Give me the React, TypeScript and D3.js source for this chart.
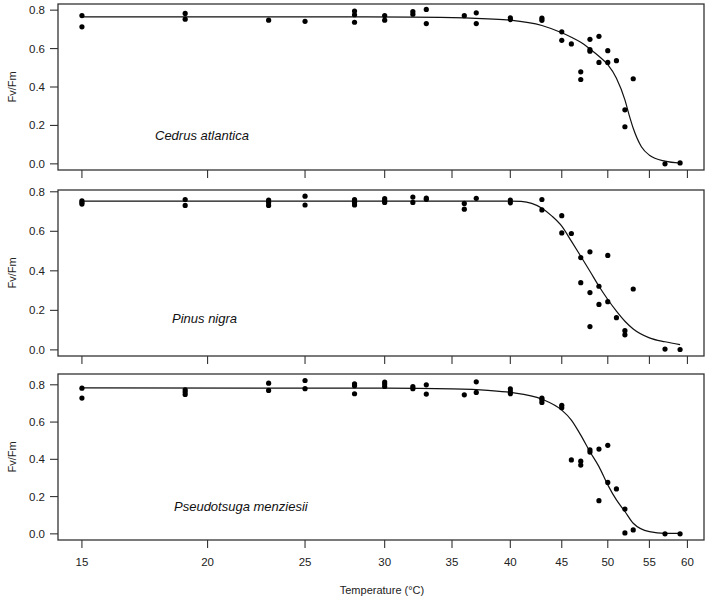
import React from "react";
import * as d3 from "d3";

// ---------- data ----------
const xTicks = [15, 20, 25, 30, 35, 40, 45, 50, 55, 60];
const yTicks = [0, 0.2, 0.4, 0.6, 0.8];
const species = ["Cedrus atlantica", "Pinus nigra", "Pseudotsuga menziesii"];

const cedrusPoints: [number, number][] = [
  [15, 0.772], [15, 0.713], [19, 0.783], [19, 0.753], [23, 0.748], [25, 0.742],
  [28, 0.795], [28, 0.776], [28, 0.737], [30, 0.772], [30, 0.748], [32, 0.793], [32, 0.779],
  [33, 0.804], [33, 0.73], [36, 0.771], [37, 0.786], [37, 0.73], [40, 0.76], [40, 0.751],
  [43, 0.758], [43, 0.747], [45, 0.687], [45, 0.643], [46, 0.624], [47, 0.479], [47, 0.439],
  [48, 0.648], [48, 0.595], [48, 0.586], [49, 0.664], [49, 0.528], [50, 0.589], [50, 0.528],
  [51, 0.537], [52, 0.281], [52, 0.193], [53, 0.443], [57, 0.0], [59, 0.005],
];
const pinusPoints: [number, number][] = [
  [15, 0.754], [15, 0.746], [15, 0.738], [19, 0.761], [19, 0.731], [23, 0.758], [23, 0.746], [23, 0.731],
  [25, 0.778], [25, 0.733], [28, 0.76], [28, 0.746], [28, 0.733], [30, 0.765], [30, 0.754], [30, 0.746],
  [32, 0.773], [32, 0.746], [33, 0.768], [33, 0.762], [36, 0.741], [36, 0.712], [37, 0.767],
  [40, 0.758], [40, 0.744], [43, 0.761], [43, 0.708], [45, 0.679], [45, 0.592], [46, 0.589],
  [47, 0.467], [47, 0.34], [48, 0.496], [48, 0.29], [48, 0.118], [49, 0.322], [49, 0.23],
  [50, 0.478], [50, 0.244], [51, 0.163], [52, 0.097], [52, 0.076], [53, 0.308], [57, 0.004], [59, 0.002],
];
const pseudoPoints: [number, number][] = [
  [15, 0.782], [15, 0.729], [19, 0.773], [19, 0.761], [19, 0.748], [23, 0.809], [23, 0.77],
  [25, 0.823], [25, 0.779], [28, 0.805], [28, 0.795], [28, 0.752], [30, 0.815], [30, 0.804], [30, 0.791],
  [32, 0.791], [32, 0.779], [33, 0.8], [33, 0.75], [36, 0.746], [37, 0.816], [37, 0.759],
  [40, 0.778], [40, 0.763], [40, 0.752], [43, 0.728], [43, 0.718], [43, 0.705], [45, 0.69], [45, 0.677],
  [46, 0.397], [47, 0.39], [47, 0.369], [48, 0.451], [48, 0.439], [49, 0.455], [49, 0.178],
  [50, 0.475], [50, 0.276], [51, 0.241], [52, 0.133], [52, 0.005], [53, 0.021], [57, 0.0], [59, 0.0],
];

const cedrusCurve: [number, number][] = [
  [15, 0.765], [25, 0.765], [32, 0.764], [36, 0.76], [38, 0.755], [40, 0.748], [43, 0.72],
  [45, 0.682], [46, 0.659], [47, 0.633], [48, 0.598], [49, 0.56], [50, 0.516], [51, 0.446],
  [52, 0.333], [52.5, 0.255], [53, 0.185], [54, 0.089], [55, 0.045], [57, 0.014], [59, 0.004],
];
const pinusCurve: [number, number][] = [
  [15, 0.753], [30, 0.753], [40, 0.753], [41, 0.751], [42, 0.741], [43, 0.717], [44, 0.677],
  [45, 0.626], [46, 0.55], [47, 0.474], [48, 0.398], [49, 0.322], [50, 0.255], [51, 0.196],
  [52, 0.145], [53, 0.106], [55, 0.061], [57, 0.041], [59, 0.027],
];
const pseudoCurve: [number, number][] = [
  [15, 0.783], [30, 0.782], [35, 0.778], [38, 0.77], [40, 0.759], [43, 0.723], [45, 0.664],
  [46, 0.611], [47, 0.53], [48, 0.441], [49, 0.361], [50, 0.263], [51, 0.182], [52, 0.12],
  [53, 0.057], [55, 0.012], [57, 0.003], [59, 0.003],
];

const allPoints = [cedrusPoints, pinusPoints, pseudoPoints];
const allCurves = [cedrusCurve, pinusCurve, pseudoCurve];

// ---------- layout ----------
const W = 709;
const H = 600;
const left = 58;
const right = 704;
const panelTops = [4, 190, 374];
const panelH = 166;
const yDomains: [number, number][] = [[-0.032, 0.832], [-0.031, 0.809], [-0.033, 0.858]];
const labelPos: [number, number][] = [[155, 139.5], [172, 322.5], [174, 510.5]];
const font = "'Liberation Sans', Arial, Helvetica, sans-serif";

export default function App() {
  const x = d3
    .scaleLog()
    .domain([Math.exp(Math.log(15) - 0.04 * Math.log(59 / 15)), Math.exp(Math.log(59) + 0.04 * Math.log(59 / 15))])
    .range([left, right]);

  return (
    <svg
      width={W}
      height={H}
      style={{ position: "absolute", left: 0, top: 0, background: "#fff" }}
      fontFamily={font}
    >
      <rect width={W} height={H} fill="#fff" />
      {species.map((name, i) => {
        const top = panelTops[i];
        const bottom = top + panelH;
        const y = d3.scaleLinear().domain(yDomains[i]).range([bottom, top]);
        const line = d3
          .line<[number, number]>()
          .x((d) => x(d[0]))
          .y((d) => y(d[1]))
          .curve(d3.curveMonotoneX);
        return (
          <g key={name}>
            <path d={line(allCurves[i]) || ""} fill="none" stroke="#111" strokeWidth={1.2} />
            {allPoints[i].map((d, j) => (
              <circle key={j} cx={x(d[0])} cy={y(d[1])} r={2.6} fill="#000" />
            ))}
            <rect
              x={left}
              y={top}
              width={right - left}
              height={panelH}
              fill="none"
              stroke="#333"
              strokeWidth={1.3}
            />
            {yTicks.map((t) => (
              <g key={t}>
                <line x1={left} x2={left - 8} y1={y(t)} y2={y(t)} stroke="#333" strokeWidth={1.1} />
                <text
                  x={left - 13}
                  y={y(t)}
                  dy="0.35em"
                  textAnchor="end"
                  fontSize={11.5}
                  fill="#222"
                >
                  {t.toFixed(1)}
                </text>
              </g>
            ))}
            {xTicks.map((t) => (
              <line key={t} x1={x(t)} x2={x(t)} y1={bottom} y2={bottom + 8} stroke="#333" strokeWidth={1.1} />
            ))}
            {i === species.length - 1 &&
              xTicks.map((t) => (
                <text key={"l" + t} x={x(t)} y={566} textAnchor="middle" fontSize={11.5} fill="#222">
                  {t}
                </text>
              ))}
            <text
              transform={`translate(16,${(top + bottom) / 2}) rotate(-90)`}
              textAnchor="middle"
              fontSize={11}
              fill="#222"
            >
              Fv/Fm
            </text>
            <text x={labelPos[i][0]} y={labelPos[i][1]} fontSize={13} fontStyle="italic" fill="#111">
              {name}
            </text>
          </g>
        );
      })}
      <text x={(left + right) / 2 + 1} y={594} textAnchor="middle" fontSize={11} fill="#222">
        Temperature (°C)
      </text>
    </svg>
  );
}
